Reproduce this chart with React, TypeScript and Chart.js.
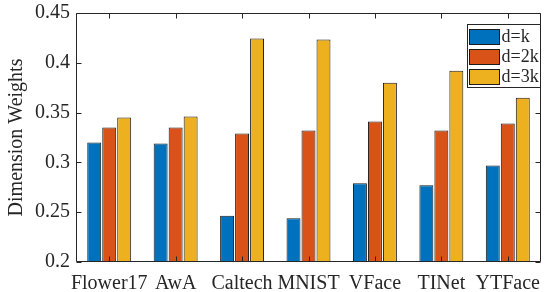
import React, { useEffect, useRef } from 'react';
import { Chart, registerables } from 'chart.js';

Chart.register(...registerables);

const categories = ['Flower17', 'AwA', 'Caltech', 'MNIST', 'VFace', 'TINet', 'YTFace'];
const seriesLabels = ['d=k', 'd=2k', 'd=3k'];
const dK = [0.320, 0.319, 0.2465, 0.244, 0.279, 0.277, 0.297];
const d2K = [0.335, 0.335, 0.329, 0.332, 0.341, 0.332, 0.339];
const d3K = [0.345, 0.346, 0.4245, 0.4235, 0.380, 0.392, 0.365];
const yTicks = [0.2, 0.25, 0.3, 0.35, 0.4, 0.45];
const seriesColors = ['#0072BD', '#D95319', '#EDB120'];
const yTitle = 'Dimension Weights';

const FONT = '"Liberation Serif", "Times New Roman", Times, serif';
const AXIS = '#262626';

const axesPlugin = {
  id: 'matlabAxes',
  afterDatasetsDraw(chart: any) {
    const { ctx, chartArea } = chart;
    const xs = chart.scales.x;
    const ys = chart.scales.y;
    const l = Math.round(chartArea.left) + 0.5;
    const r = Math.round(chartArea.right) - 0.5;
    const t = Math.round(chartArea.top) + 0.5;
    const b = Math.round(chartArea.bottom) - 0.5;
    ctx.save();
    ctx.strokeStyle = AXIS;
    ctx.lineWidth = 1;
    ctx.beginPath();
    ctx.rect(l, t, r - l, b - t);
    const tl = 5;
    yTicks.forEach((v) => {
      const y = Math.round(ys.getPixelForValue(v)) + 0.5;
      ctx.moveTo(l, y);
      ctx.lineTo(l + tl, y);
      ctx.moveTo(r, y);
      ctx.lineTo(r - tl, y);
    });
    categories.forEach((_, i) => {
      const x = Math.round(xs.getPixelForValue(i)) + 0.5;
      ctx.moveTo(x, b);
      ctx.lineTo(x, b - tl);
      ctx.moveTo(x, t);
      ctx.lineTo(x, t + tl);
    });
    ctx.stroke();
    ctx.restore();
  },
  afterDraw(chart: any) {
    const { ctx, chartArea } = chart;
    const ds = chart.data.datasets;
    const w = 73;
    const h = 63;
    const x0 = Math.round(chartArea.right) - 1 - w + 0.5;
    const y0 = Math.round(chartArea.top) + 11 + 0.5;
    ctx.save();
    ctx.fillStyle = '#ffffff';
    ctx.fillRect(x0, y0, w, h);
    ctx.strokeStyle = AXIS;
    ctx.lineWidth = 1;
    ctx.strokeRect(x0, y0, w, h);
    ctx.font = `18px ${FONT}`;
    ctx.textBaseline = 'middle';
    ctx.textAlign = 'left';
    ds.forEach((d: any, i: number) => {
      const sy = y0 + 5 + i * 20;
      ctx.fillStyle = d.backgroundColor;
      ctx.fillRect(x0 + 2, sy, 30, 15);
      ctx.strokeStyle = '#1a1a1a';
      ctx.strokeRect(x0 + 2, sy, 30, 15);
      ctx.fillStyle = AXIS;
      ctx.fillText(d.label, x0 + 34, sy + 8);
    });
    ctx.restore();
  },
};

export default function App() {
  const ref = useRef<HTMLCanvasElement>(null);
  useEffect(() => {
    document.body.style.margin = '0';
    const canvas = ref.current!;
    const seriesData = [dK, d2K, d3K];
    const chart = new Chart(canvas, {
      type: 'bar',
      data: {
        labels: categories,
        datasets: seriesData.map((vals, i) => ({
          label: seriesLabels[i],
          data: vals,
          backgroundColor: seriesColors[i],
          borderColor: '#1a1a1a',
          borderWidth: 1,
          categoryPercentage: 0.677,
          barPercentage: 0.93,
        })),
      },
      options: {
        responsive: false,
        animation: false,
        devicePixelRatio: 1,
        layout: { padding: { top: 13, right: 5, left: 0, bottom: 0 } },
        plugins: { legend: { display: false }, tooltip: { enabled: false } },
        scales: {
          x: {
            grid: { display: false, drawTicks: false },
            border: { display: false },
            ticks: {
              autoSkip: false,
              maxRotation: 0,
              minRotation: 0,
              padding: 10,
              color: AXIS,
              font: { family: FONT, size: 20 },
            },
            afterFit: (s: any) => {
              s.height = 30;
              s.paddingLeft = 0;
              s.paddingRight = 0;
            },
          },
          y: {
            min: 0.2,
            max: 0.45,
            grid: { display: false, drawTicks: false },
            border: { display: false },
            afterBuildTicks: (s: any) => {
              s.ticks = yTicks.map((v) => ({ value: v }));
            },
            ticks: {
              padding: 6,
              color: AXIS,
              font: { family: FONT, size: 20 },
              callback: (v: any) => String(Number(v)),
            },
            title: {
              display: true,
              text: yTitle,
              color: AXIS,
              font: { family: FONT, size: 20 },
              padding: { top: 5, bottom: 0 },
            },
            afterFit: (s: any) => {
              s.width = 76;
              s.paddingTop = 0;
              s.paddingBottom = 0;
            },
          },
        },
      },
      plugins: [axesPlugin],
    });
    return () => chart.destroy();
  }, []);
  return (
    <div style={{ width: 546, height: 292 }}>
      <canvas ref={ref} width={546} height={292} style={{ display: 'block' }} />
    </div>
  );
}
